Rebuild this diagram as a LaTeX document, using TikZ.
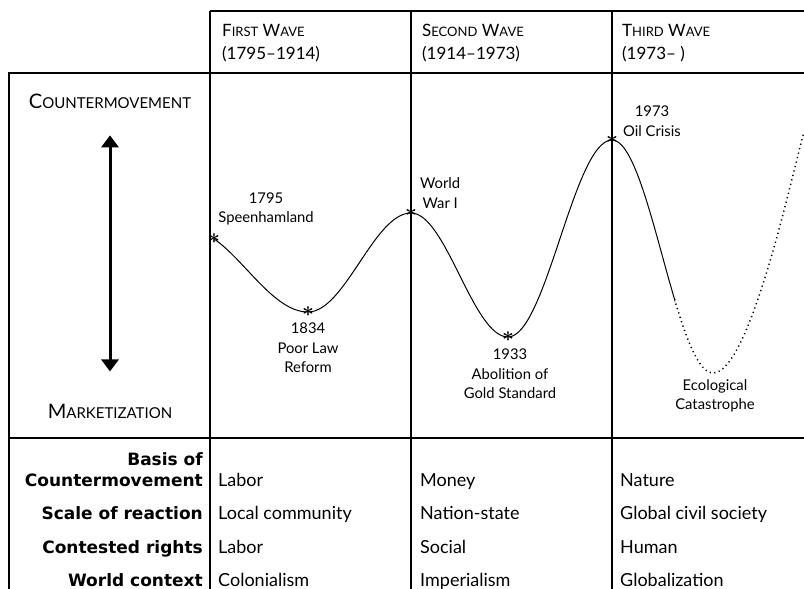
\documentclass[tikz,border=0pt]{standalone}
\usepackage{amsmath}
\usepackage{fontspec}
\setmainfont{Lato}
\newfontfamily\rowfont{DejaVu Sans}
\usetikzlibrary{arrows.meta,positioning}
\newcommand\hdsc[2]{#1{\fontsize{13}{13}\selectfont#2}}
\newcommand\axsc[2]{#1{\fontsize{15}{15}\selectfont#2}}

\begin{document}
\begin{tikzpicture}[x=1pt,y=-1pt,
  grid/.style={line width=1.6pt},
  wave/.style={line width=1pt},
  dots/.style={dash pattern=on 1.2pt off 3.4pt,line width=1.5pt},
  ev/.style={inner sep=0pt,font=\fontsize{20}{20}\selectfont},
  evlab/.style={align=center,inner sep=0pt,font=\fontsize{14.8}{19.5}\selectfont},
  hd/.style={align=left,anchor=west,inner sep=0pt,font=\fontsize{17}{23}\selectfont},
  axlab/.style={anchor=base,inner sep=0pt,font=\fontsize{20}{20}\selectfont},
  rowlab/.style={align=right,anchor=base east,inner sep=0pt,font=\fontsize{17}{21}\rowfont\bfseries},
  cell/.style={anchor=base west,inner sep=0pt,font=\fontsize{18}{20}\selectfont},
  >={Triangle[length=12pt,width=17pt]}]
\useasboundingbox (0,0) rectangle (804,589);
% table lines
\draw[grid] (210,11) -- (804,11);
\draw[grid] (9,589) -- (9,73) -- (804,73);
\draw[grid] (9,438) -- (804,438);
\draw[grid] (210,11) -- (210,589);
\draw[grid] (411,11) -- (411,589);
\draw[grid] (612,11) -- (612,589);
% headers
\node[hd] (first) at (222,43) {\hdsc{F}{IRST} \hdsc{W}{AVE}\\(1795--1914)};
\node[hd] (second) at (422,43) {\hdsc{S}{ECOND} \hdsc{W}{AVE}\\(1914--1973)};
\node[hd] (third) at (622,43) {\hdsc{T}{HIRD} \hdsc{W}{AVE}\\(1973-- )};
% axis
\node[axlab] (cm) at (110,108) {\axsc{C}{OUNTERMOVEMENT}};
\node[axlab] (mk) at (110,418) {\axsc{M}{ARKETIZATION}};
\draw[line width=3pt,<->] ([yshift=-27pt]cm.south) -- ([yshift=32pt]mk.north);
% wave
\node[ev] (speen) at (214,239) {$\boldsymbol{\ast}$};
\node[ev] (poor) at (308,312) {$\boldsymbol{\ast}$};
\node[ev] (ww) at (411,213) {$\boldsymbol{\ast}$};
\node[ev] (gold) at (508,337) {$\boldsymbol{\ast}$};
\node[ev] (oil) at (612,140) {$\boldsymbol{\ast}$};
\coordinate (cat) at (713,373);
\coordinate (rim) at (804,132);
\draw[wave] (speen.center) .. controls +(30,20) and +(-34,0) .. (poor.center)
  .. controls +(37,0) and +(-37,0) .. (ww.center)
  .. controls +(35,0) and +(-35,0) .. (gold.center)
  .. controls +(38,0) and +(-38,0) .. (oil.center);
\begin{scope}
\clip (612,0) rectangle (675,589);
\draw[wave] (oil.center) .. controls +(37,0) and +(-37,0) .. (cat);
\end{scope}
\begin{scope}
\clip (675,0) rectangle (804,589);
\draw[wave,dots] (oil.center) .. controls +(37,0) and +(-37,0) .. (cat)
  .. controls +(37,0) and +(-12,42) .. (rim);
\end{scope}
% event labels
\node[evlab] (speenl) at (266,209) {1795\\Speenhamland};
\node[evlab] (poorl) at (308,348) {1834\\Poor Law\\Reform};
\node[evlab,anchor=west] (wwl) at (420,193) {World\\War I};
\node[evlab] (goldl) at (510,374) {1933\\Abolition of\\Gold Standard};
\node[evlab] (oill) at (652,121) {1973\\Oil Crisis};
\node[evlab] (catl) at (715,396) {Ecological\\Catastrophe};
% rows
\node[rowlab] (basis) at (203,486) {Basis of\\Countermovement};
\node[rowlab] (scale) at (203,519) {Scale of reaction};
\node[rowlab] (rights) at (203,553) {Contested rights};
\node[rowlab] (context) at (203,586) {World context};
\node[cell] (b1) at (218,486) {Labor};
\node[cell] (b2) at (420,486) {Money};
\node[cell] (b3) at (620,486) {Nature};
\node[cell] (s1) at (218,519) {Local community};
\node[cell] (s2) at (420,519) {Nation-state};
\node[cell] (s3) at (620,519) {Global civil society};
\node[cell] (r1) at (218,553) {Labor};
\node[cell] (r2) at (420,553) {Social};
\node[cell] (r3) at (620,553) {Human};
\node[cell] (c1) at (218,586) {Colonialism};
\node[cell] (c2) at (420,586) {Imperialism};
\node[cell] (c3) at (620,586) {Globalization};
\end{tikzpicture}
\end{document}
